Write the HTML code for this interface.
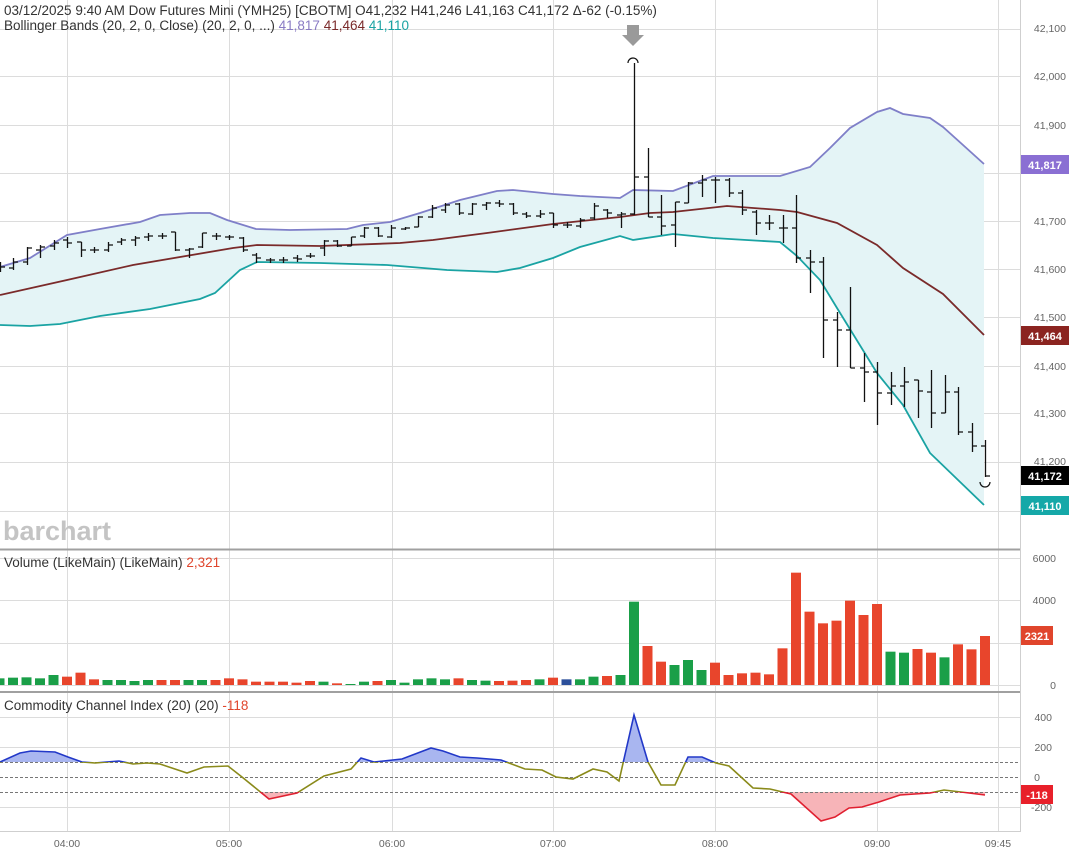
<!DOCTYPE html>
<html><head><meta charset="utf-8"><style>
html,body{margin:0;padding:0;background:#fff;width:1069px;height:857px;overflow:hidden}
svg{display:block;font-family:"Liberation Sans",sans-serif}
</style></head><body>
<svg id="s" width="1069" height="857" viewBox="0 0 1069 857" xmlns="http://www.w3.org/2000/svg">
<defs>
<clipPath id="cAbove"><rect x="0" y="690" width="1020" height="72"/></clipPath>
<clipPath id="cBelow"><rect x="0" y="792" width="1020" height="50"/></clipPath>
<clipPath id="cMid"><rect x="0" y="762" width="1020" height="30"/></clipPath>
</defs>
<g id="grid" stroke="#dcdcdc" stroke-width="1"></g>
<g id="bands"></g>
<g id="bars" stroke="#111" stroke-width="1.3" fill="none"></g>
<g id="vol"></g>
<g id="cci"></g>
<line x1="0" y1="549.5" x2="1020" y2="549.5" stroke="#a0a0a0" stroke-width="2"/>
<line x1="0" y1="692" x2="1020" y2="692" stroke="#a0a0a0" stroke-width="2"/>
<line x1="1020.5" y1="0" x2="1020.5" y2="832" stroke="#cfcfcf"/>
<line x1="0" y1="831.5" x2="1020" y2="831.5" stroke="#cfcfcf"/>
<polygon points="627,25 639,25 639,35 644,35 633,46 622,35 627,35" fill="#9a9a9a"/>
<path d="M628,63 A5,5 0 0 1 638,63" fill="none" stroke="#111" stroke-width="1.2"/>
<path d="M980,482 A5,5 0 0 0 990,482" fill="none" stroke="#111" stroke-width="1.2"/>
<g font-size="13.5" fill="#333">
<text x="4" y="15">03/12/2025  9:40 AM Dow Futures Mini (YMH25) [CBOTM] O41,232 H41,246 L41,163 C41,172 Δ-62 (-0.15%)</text>
<text x="4" y="30">Bollinger Bands (20, 2, 0, Close)  (20, 2, 0, ...) <tspan fill="#8a7bc4">41,817</tspan> <tspan fill="#7a2a2a">41,464</tspan> <tspan fill="#1aa3a3">41,110</tspan></text>
<text x="4" y="567">Volume (LikeMain)  (LikeMain) <tspan fill="#e0452c">2,321</tspan></text>
<text x="4" y="710">Commodity Channel Index (20)  (20) <tspan fill="#e0452c">-118</tspan></text>
</g>
<text x="3" y="540" font-size="27" font-weight="bold" fill="#c4c4c4">barchart</text>
<g font-size="10.5" fill="#666" text-anchor="end">
<text x="1066" y="32">42,100</text>
<text x="1066" y="80">42,000</text>
<text x="1066" y="129">41,900</text>
<text x="1066" y="225">41,700</text>
<text x="1066" y="273">41,600</text>
<text x="1066" y="321">41,500</text>
<text x="1066" y="370">41,400</text>
<text x="1066" y="417">41,300</text>
<text x="1066" y="465">41,200</text>
<text x="1056" y="562">6000</text>
<text x="1056" y="604">4000</text>
<text x="1056" y="689">0</text>
<text x="1052" y="721">400</text>
<text x="1052" y="751">200</text>
<text x="1040" y="781">0</text>
<text x="1052" y="811">-200</text>
</g>
<g font-size="10.5" fill="#666" text-anchor="middle">
<text x="67" y="847">04:00</text><text x="229" y="847">05:00</text><text x="392" y="847">06:00</text>
<text x="553" y="847">07:00</text><text x="715" y="847">08:00</text><text x="877" y="847">09:00</text><text x="998" y="847">09:45</text>
</g>
<g font-size="11" font-weight="bold" fill="#fff" text-anchor="middle">
<rect x="1021" y="155" width="48" height="19" fill="#8a6fd3"/><text x="1045" y="169">41,817</text>
<rect x="1021" y="326" width="48" height="19" fill="#8b2420"/><text x="1045" y="340">41,464</text>
<rect x="1021" y="466" width="48" height="19" fill="#000"/><text x="1045" y="480">41,172</text>
<rect x="1021" y="496" width="48" height="19" fill="#15a8a8"/><text x="1045" y="510">41,110</text>
<rect x="1021" y="626" width="32" height="19" fill="#e0452c"/><text x="1037" y="640">2321</text>
<rect x="1021" y="785" width="32" height="19" fill="#e8202a"/><text x="1037" y="799">-118</text>
</g>
</svg>
<script>
var NS="http://www.w3.org/2000/svg";
function el(p,t,a){var e=document.createElementNS(NS,t);for(var k in a)e.setAttribute(k,a[k]);document.getElementById(p).appendChild(e);return e;}
[29,76,125,173,221,269,317,366,413,462,511].forEach(function(y){el("grid","line",{x1:0,x2:1020,y1:y+.5,y2:y+.5});});
[558,600,643,685].forEach(function(y){el("grid","line",{x1:0,x2:1020,y1:y+.5,y2:y+.5});});
[717,747,807].forEach(function(y){el("grid","line",{x1:0,x2:1020,y1:y+.5,y2:y+.5});});
[67,229,392,553,715,877,998].forEach(function(x){el("grid","line",{x1:x+.5,x2:x+.5,y1:0,y2:832});});
var up=[[0,267],[30,258],[67,235],[100,229],[140,222],[160,215],[190,213],[210,213],[227,220],[256,229],[290,230],[347,229],[363,225],[390,222],[420,213],[460,200],[497,191],[513,190],[553,194],[580,196],[620,198],[633,190],[673,191],[713,176],[780,176],[810,167],[830,148],[850,128],[877,112],[890,108],[903,114],[930,118],[943,127],[963,145],[984,164]];
var md=[[0,295],[67,280],[133,265],[233,248],[257,245],[320,246],[400,243],[433,240],[487,233],[553,224],[620,217],[650,213],[673,212],[727,206],[780,210],[797,212],[837,223],[877,245],[903,268],[943,294],[984,335]];
var lo=[[0,325],[30,326],[60,324],[100,316],[150,309],[200,299],[215,293],[240,270],[257,262],[320,263],[387,265],[447,270],[497,272],[520,268],[553,258],[580,247],[620,236],[633,240],[673,234],[713,238],[780,242],[797,256],[820,280],[837,308],[877,373],[903,405],[930,453],[984,505]];
function pts(a){return a.map(function(p){return p[0]+","+p[1];}).join(" ");}
el("bands","polygon",{points:pts(up)+" "+pts(lo.slice().reverse()),fill:"#e4f4f6"});
el("bands","polyline",{points:pts(up),fill:"none",stroke:"#7f7fc8","stroke-width":1.8});
el("bands","polyline",{points:pts(md),fill:"none",stroke:"#7a2a2a","stroke-width":1.8});
el("bands","polyline",{points:pts(lo),fill:"none",stroke:"#1aa3a3","stroke-width":1.8});
var B=[[262,272,268,267],[258,270,268,262],[247,265,262,248],[245,258,250,247],[240,250,246,243],[237,248,240,243],[242,257,242,250],[247,253,250,250],[242,252,250,245],[238,245,242,240],[236,246,240,238],[233,241,237,236],[233,239,236,236],[232,251,232,250],[248,258,250,249],[233,248,247,233],[233,240,236,236],[235,240,237,237],[237,252,238,250],[253,263,255,258],[258,263,260,260],[257,263,260,260],[255,262,258,259],[253,258,256,256],[240,256,248,241],[240,247,241,246],[237,246,246,237],[227,238,236,228],[227,237,228,236],[225,238,237,228],[227,230,229,228],[216,227,227,217],[205,218,217,208],[203,213,210,205],[203,215,204,213],[203,215,214,204],[202,210,205,203],[200,207,203,204],[203,215,204,213],[212,218,214,216],[210,218,216,214],[213,228,213,225],[222,228,225,225],[218,228,226,220],[203,220,218,206],[209,218,210,213],[212,228,215,214],[63,215,214,177],[148,217,177,217],[195,235,217,226],[202,247,225,202],[182,203,203,183],[175,197,183,180],[177,203,180,180],[178,197,180,193],[190,215,193,210],[210,235,212,223],[215,230,223,223],[215,243,228,228],[195,263,228,258],[250,293,258,262],[257,358,262,320],[312,367,320,330],[287,368,330,368],[353,402,368,372],[362,425,372,393],[372,405,393,386],[367,407,386,382],[380,418,380,391],[370,428,392,413],[375,413,413,392],[387,435,392,432],[423,452,432,446],[440,477,446,476]];
var d="";
B.forEach(function(b,i){var x=Math.round(-0.5+13.5*i)+.5;d+="M"+x+","+b[0]+"V"+b[1]+"M"+(x-4.5)+","+b[2]+"H"+x+"M"+x+","+b[3]+"H"+(x+4.5);});
el("bars","path",{d:d});
var V=[415,413,412,415,405,410,398,418,420,420,423,420,420,420,420,420,420,415,418,425,425,425,428,423,425,430,432,425,423,420,428,418,415,418,415,420,422,423,422,420,418,413,418,418,410,408,405,185,318,365,375,360,390,368,405,400,398,403,325,98,215,250,242,182,225,192,335,338,327,338,352,313,328,288];
V.forEach(function(z,i){var x=-0.5+13.5*i;var y=540+z/3;var b=B[i];var c=b[3]<b[2]?"#1a9f48":"#e8452c";if(i==42)c="#2c4f9a";if(i==47)c="#1a9f48";
el("vol","rect",{x:x-5,y:y,width:10,height:685-y,fill:c});});
var C=[[0,762],[20,753],[31,751],[55,752],[68,757],[82,762],[95,763],[119,761],[133,764],[147,763],[160,764],[187,773],[204,767],[228,766],[242,777],[269,799],[297,793],[324,776],[351,769],[361,758],[374,762],[402,759],[431,748],[443,751],[460,757],[477,758],[501,760],[525,769],[542,770],[556,777],[573,779],[593,769],[607,772],[619,781],[634,715],[648,762],[661,785],[675,785],[688,757],[702,757],[716,763],[729,766],[753,788],[770,789],[791,794],[821,821],[835,817],[849,808],[862,807],[879,802],[900,795],[930,793],[944,790],[961,792],[985,795]];
var cp=pts(C);
el("cci","polygon",{points:"0,762 "+cp+" 985,762",fill:"#a9b6f0","clip-path":"url(#cAbove)"});
el("cci","polygon",{points:"0,792 "+cp+" 985,792",fill:"#f7b4b8","clip-path":"url(#cBelow)"});
[762,777,792].forEach(function(y){el("cci","line",{x1:0,x2:1020,y1:y+.5,y2:y+.5,stroke:"#777","stroke-dasharray":"3,2","stroke-width":1});});
el("cci","polyline",{points:cp,fill:"none",stroke:"#2238c8","stroke-width":1.6,"clip-path":"url(#cAbove)"});
el("cci","polyline",{points:cp,fill:"none",stroke:"#8a8a1a","stroke-width":1.6,"clip-path":"url(#cMid)"});
el("cci","polyline",{points:cp,fill:"none",stroke:"#e02030","stroke-width":1.6,"clip-path":"url(#cBelow)"});
</script>
</body></html>
